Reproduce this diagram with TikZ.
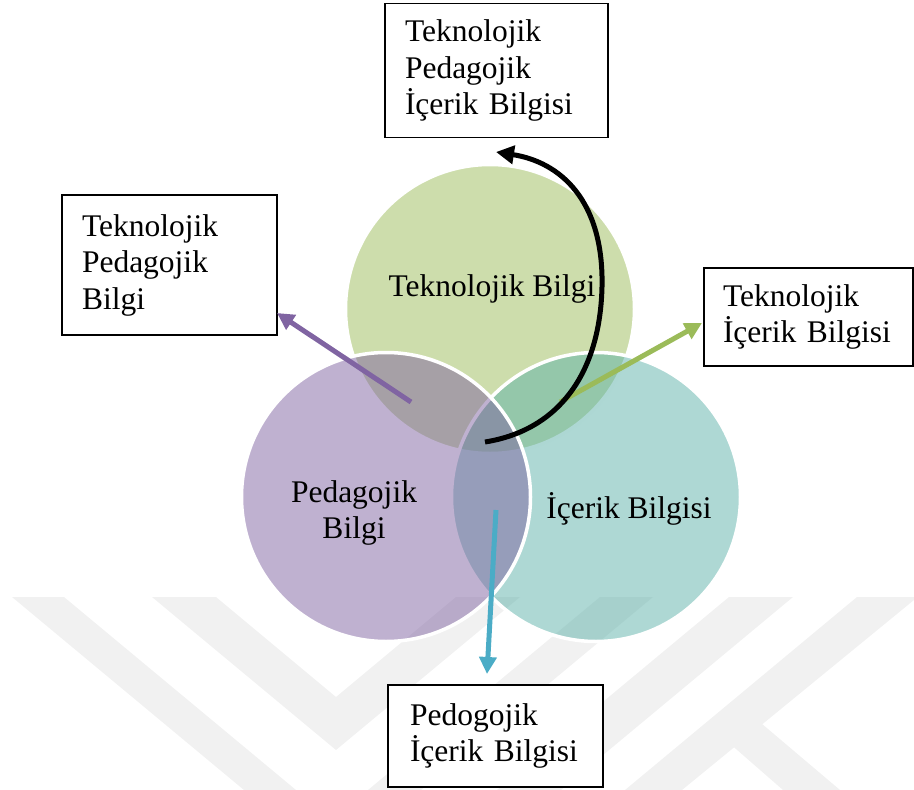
\documentclass[tikz,border=0pt]{standalone}
\usepackage{fontspec}
\setmainfont{Liberation Serif}
\usetikzlibrary{arrows.meta}
\hyphenpenalty=10000
\exhyphenpenalty=10000
\definecolor{cgreen}{HTML}{9BBB59}
\definecolor{cpurple}{HTML}{8064A2}
\definecolor{cteal}{RGB}{93,177,169}
\definecolor{ccyan}{HTML}{4BACC6}
\definecolor{wm}{HTML}{F1F1F1}
\begin{document}
\begin{tikzpicture}[x=1pt,y=-1pt,
  lbl/.style={font=\fontsize{31.5}{36.5}\selectfont, align=center, inner sep=0pt},
  tbox/.style={draw=black, line width=1.3pt, fill=white, font=\fontsize{31.5}{36.5}\selectfont, align=left, inner ysep=0pt},
  venn/.style={circle, draw=white, line width=3.5pt, fill opacity=0.5, minimum size=289pt, inner sep=0pt},
  arr/.style={line width=5pt, -{Triangle[length=17pt,width=17pt]}},
  wmk/.style={fill=wm, draw=none}
]
\useasboundingbox (0,0) rectangle (914,790);
% watermark
\fill[wmk] (12,597) -- (64,597) -- (296,790) -- (244,790) -- cycle;
\fill[wmk] (152,597) -- (216,597) -- (336,697) -- (456,597) -- (520,597) -- (336,750) -- cycle;
\fill[wmk] (600,597) -- (653,597) -- (421,790) -- (368,790) -- cycle;
\fill[wmk] (729,597) -- (793,597) -- (561,790) -- (497,790) -- cycle;
\fill[wmk] (857,597) -- (914,597) -- (914,600) -- (682,790) -- (625,790) -- cycle;
\fill[wmk] (728,742) -- (755,718) -- (840,790) -- (783,790) -- cycle;
% venn circles
\node[venn, fill=cgreen] (cT) at (490,309) {};
\node[venn, fill=cteal] (cI) at (596,497) {};
\node[venn, fill=cpurple] (cP) at (386,497) {};
% circle labels
\node[lbl] (tb) at (492,289) {Teknolojik Bilgi};
\node[lbl] (pb) at (354,513) {Pedagojik\\Bilgi};
\node[lbl] (ib) at (629,509) {İçerik Bilgisi};
% boxes
\node[tbox, text width=183pt, inner xsep=20pt, minimum height=134pt] (tpib) at (496.5,70.5) {Teknolojik\\Pedagojik\\İçerik Bilgisi};
\node[tbox, text width=175pt, inner xsep=20pt, minimum height=140pt] (tpb) at (169.5,265) {Teknolojik\\Pedagojik\\Bilgi};
\node[tbox, text width=171pt, inner xsep=19pt, minimum height=98pt] (tib) at (808.5,317) {Teknolojik\\İçerik Bilgisi};
\node[tbox, text width=171pt, inner xsep=22pt, minimum height=102pt] (pib) at (495.5,736) {Pedogojik\\İçerik Bilgisi};
% arrows
\coordinate (pa1) at (411,402); \coordinate (pa2) at (277,313);
\coordinate (ga1) at (560,402); \coordinate (ga2) at (702,323);
\coordinate (ca1) at (496,510); \coordinate (ca2) at (487,674);
\coordinate (ba1) at (485,442); \coordinate (bam) at (602,287); \coordinate (ba2) at (496,152);
\draw[arr, cpurple] (pa1) -- (pa2);
\draw[arr, cgreen] (ga1) -- (ga2);
\draw[arr, ccyan] (ca1) -- (ca2);
\draw[arr, black, line width=5pt, -{Triangle[length=18pt,width=18pt]}] (ba1) .. controls (560,430) and (600,372) .. (bam) .. controls (604,200) and (560,162) .. (ba2);
\end{tikzpicture}
\end{document}
